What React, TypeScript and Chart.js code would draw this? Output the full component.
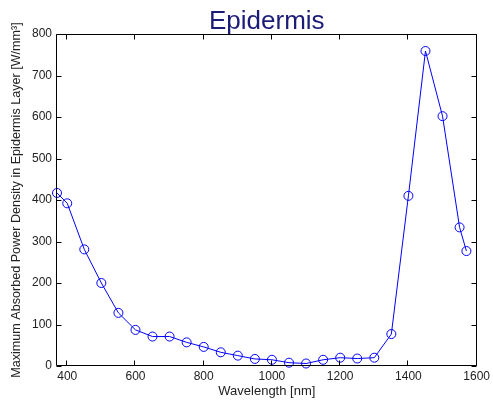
import React, { useEffect, useRef } from "react";
import { Chart, registerables } from "chart.js";

Chart.register(...registerables);

const wavelengths = [370, 400, 450, 500, 550, 600, 650, 700, 750, 800, 850, 900, 950, 1000, 1050, 1100, 1150, 1200, 1250, 1300, 1350, 1400, 1450, 1500, 1550, 1570];
const powerDensity = [417, 392, 281, 200, 128, 87, 71, 71, 57, 46, 33, 25, 17, 15, 8, 6, 15, 20, 18, 20, 77, 410, 759, 602, 334, 277];
const xTickValues = [400, 600, 800, 1000, 1200, 1400, 1600];
const yTickValues = [0, 100, 200, 300, 400, 500, 600, 700, 800];
const chartTitle = "Epidermis";
const xTitle = "Wavelength [nm]";
const yTitle = "Maximum Absorbed Power Density in Epidermis Layer [W/mm\u00B3]";

const FONT = '"Liberation Sans", Arial, Helvetica, sans-serif';

const framePlugin = {
  id: "frame",
  afterDraw(chart: any) {
    const { ctx, chartArea: a, scales } = chart;
    const x = scales.x;
    const y = scales.y;
    const L = Math.round(a.left) - 0.5;
    const R = Math.round(a.right) - 0.5;
    const T = Math.round(a.top) + 0.5;
    const B = Math.round(a.bottom) - 0.5;
    ctx.save();
    ctx.strokeStyle = "#000";
    ctx.lineWidth = 1;
    ctx.beginPath();
    ctx.rect(L, T, R - L, B - T);
    const tl = 5;
    xTickValues.forEach((v) => {
      const px = Math.round(x.getPixelForValue(v)) - 0.5;
      ctx.moveTo(px, B);
      ctx.lineTo(px, B - tl);
      ctx.moveTo(px, T);
      ctx.lineTo(px, T + tl);
    });
    yTickValues.forEach((v) => {
      const py = Math.round(y.getPixelForValue(v)) + 0.5;
      ctx.moveTo(L, py);
      ctx.lineTo(L + tl, py);
      ctx.moveTo(R, py);
      ctx.lineTo(R - tl, py);
    });
    ctx.stroke();
    ctx.fillStyle = "#1c1c78";
    ctx.font = `26px ${FONT}`;
    ctx.textAlign = "center";
    ctx.textBaseline = "alphabetic";
    ctx.fillText(chartTitle, (a.left + a.right) / 2, 29);
    ctx.restore();
  },
};

export default function App() {
  const ref = useRef<HTMLCanvasElement | null>(null);
  useEffect(() => {
    if (!ref.current) return;
    const chart = new Chart(ref.current, {
      type: "line",
      data: {
        datasets: [
          {
            data: wavelengths.map((w, i) => ({ x: w, y: powerDensity[i] })),
            borderColor: "#0000ff",
            borderWidth: 1,
            backgroundColor: "rgba(0,0,0,0)",
            pointStyle: "circle",
            pointRadius: 4.5,
            pointBorderWidth: 1,
            pointBorderColor: "#0000ff",
            pointBackgroundColor: "rgba(0,0,0,0)",
            tension: 0,
            clip: false as any,
          },
        ],
      },
      options: {
        animation: false,
        responsive: false,
        layout: { padding: { top: 34, right: 16, left: 0, bottom: 0 } },
        plugins: {
          legend: { display: false },
          tooltip: { enabled: false },
          title: { display: false },
        },
        scales: {
          x: {
            type: "linear",
            min: 370,
            max: 1600,
            grid: { display: false, drawTicks: false },
            border: { display: false },
            afterBuildTicks: (scale: any) => {
              scale.ticks = xTickValues.map((v) => ({ value: v }));
            },
            afterFit: (scale: any) => {
              scale.height = 42;
            },
            ticks: {
              padding: 3,
              color: "#222",
              font: { family: FONT, size: 12 },
              maxRotation: 0,
              autoSkip: false,
              callback: (v: any) => String(v),
            },
            title: {
              display: true,
              text: xTitle,
              color: "#222",
              font: { family: FONT, size: 13 },
              padding: { top: 0, bottom: 9 },
            },
          },
          y: {
            type: "linear",
            min: 0,
            max: 800,
            grid: { display: false, drawTicks: false },
            border: { display: false },
            afterBuildTicks: (scale: any) => {
              scale.ticks = yTickValues.map((v) => ({ value: v }));
            },
            afterFit: (scale: any) => {
              scale.width = 57;
            },
            ticks: {
              padding: 5,
              color: "#222",
              font: { family: FONT, size: 12 },
              callback: (v: any) => String(v),
            },
            title: {
              display: true,
              text: yTitle,
              color: "#222",
              font: { family: FONT, size: 12.6 },
              padding: { top: 9, bottom: 0 },
            },
          },
        },
      },
      plugins: [framePlugin],
    });
    return () => chart.destroy();
  }, []);
  return (
    <div style={{ position: "fixed", left: 0, top: 0, width: 493, height: 408, background: "#fff" }}>
      <canvas ref={ref} width={493} height={408} style={{ display: "block" }} />
    </div>
  );
}
